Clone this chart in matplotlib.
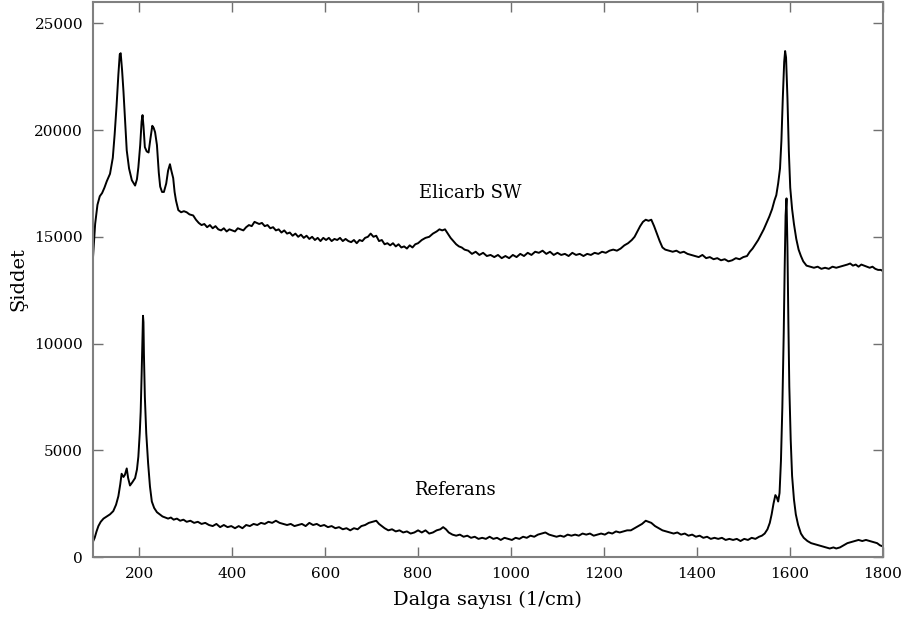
import matplotlib.pyplot as plt

# Raman spectra: Elicarb SW sample and reference
elicarb_x = [100, 105, 110, 115, 120, 125, 130, 137, 143, 147, 151, 155, 158, 160, 163, 166, 170, 173, 178, 184,
             191, 195, 198, 202, 205, 207, 209, 212, 216, 220, 224, 228, 231, 234, 238, 242, 245, 249, 253, 258,
             262, 266, 269, 273, 276, 279, 284, 290, 296, 302, 308, 316, 322, 328, 334, 340, 346, 352, 358, 364,
             370, 376, 382, 388, 394, 400, 406, 412, 418, 424, 430, 436, 442, 448, 453, 458, 464, 470, 476, 482,
             488, 494, 500, 506, 512, 518, 524, 530, 536, 542, 548, 554, 560, 566, 572, 578, 584, 590, 596, 602,
             608, 614, 620, 626, 632, 638, 644, 650, 656, 662, 668, 674, 680, 686, 692, 698, 704, 710, 716, 722,
             728, 734, 740, 746, 752, 758, 764, 770, 776, 782, 788, 794, 800, 808, 816, 824, 832, 840, 846, 852,
             858, 864, 870, 876, 882, 888, 894, 900, 908, 916, 924, 932, 940, 948, 956, 964, 972, 980, 988, 996,
             1004, 1012, 1020, 1028, 1036, 1044, 1052, 1060, 1068, 1076, 1084, 1092, 1100, 1108, 1116, 1124, 1132,
             1140, 1148, 1156, 1164, 1172, 1180, 1188, 1196, 1204, 1212, 1220, 1228, 1236, 1244, 1252, 1260, 1266,
             1272, 1278, 1284, 1290, 1296, 1302, 1308, 1314, 1320, 1326, 1332, 1340, 1348, 1356, 1364, 1372, 1380,
             1388, 1396, 1404, 1412, 1420, 1428, 1436, 1444, 1452, 1460, 1468, 1476, 1484, 1492, 1500, 1508, 1514,
             1520, 1526, 1532, 1538, 1544, 1550, 1556, 1562, 1567, 1571, 1575, 1579, 1582, 1585, 1588, 1590, 1592,
             1595, 1598, 1601, 1605, 1609, 1614, 1619, 1624, 1629, 1636, 1644, 1652, 1660, 1668, 1676, 1684, 1692,
             1700, 1708, 1716, 1724, 1730, 1736, 1742, 1748, 1754, 1760, 1766, 1772, 1778, 1784, 1790, 1796, 1800]
elicarb_y = [13900, 15600, 16500, 16900, 17050, 17300, 17600, 17950, 18700, 19800, 21100, 22600, 23550, 23600,
             22800, 21800, 20200, 19050, 18200, 17650, 17400, 17700, 18250, 19300, 20400, 20700, 20200, 19200,
             19000, 18950, 19600, 20200, 20100, 19900, 19300, 18000, 17350, 17100, 17100, 17500, 18100, 18400,
             18100, 17750, 17100, 16700, 16250, 16150, 16200, 16150, 16050, 16000, 15800, 15650, 15550, 15600,
             15450, 15550, 15400, 15500, 15350, 15300, 15400, 15250, 15350, 15300, 15250, 15400, 15350, 15300,
             15450, 15550, 15500, 15700, 15650, 15600, 15650, 15500, 15550, 15400, 15450, 15300, 15350, 15200,
             15300, 15150, 15200, 15050, 15150, 15000, 15100, 14950, 15050, 14900, 15000, 14850, 14950, 14800,
             14950, 14850, 14950, 14800, 14900, 14850, 14950, 14800, 14900, 14800, 14750, 14850, 14700, 14850,
             14800, 14950, 15000, 15150, 15000, 15050, 14800, 14850, 14650, 14700, 14600, 14700, 14550, 14650,
             14500, 14550, 14450, 14600, 14500, 14650, 14700, 14850, 14950, 15000, 15150, 15250, 15350, 15300,
             15350, 15150, 14950, 14800, 14650, 14550, 14500, 14400, 14350, 14200, 14300, 14150, 14250, 14100,
             14150, 14050, 14150, 14000, 14100, 14000, 14150, 14050, 14200, 14100, 14250, 14150, 14300, 14250,
             14350, 14200, 14300, 14150, 14250, 14150, 14200, 14100, 14250, 14150, 14200, 14100, 14200, 14150,
             14250, 14200, 14300, 14250, 14350, 14400, 14350, 14450, 14600, 14700, 14850, 15000, 15250, 15500,
             15700, 15800, 15750, 15800, 15500, 15150, 14800, 14500, 14400, 14350, 14300, 14350, 14250, 14300,
             14200, 14150, 14100, 14050, 14150, 14000, 14050, 13950, 14000, 13900, 13950, 13850, 13900, 14000,
             13950, 14050, 14100, 14300, 14450, 14650, 14850, 15100, 15350, 15650, 15950, 16300, 16700, 16950,
             17500, 18200, 19500, 21500, 23200, 23700, 23400, 21500, 19000, 17300, 16300, 15600, 14900, 14400,
             14100, 13850, 13650, 13600, 13550, 13600, 13500, 13550, 13500, 13600, 13550, 13600, 13650, 13700,
             13750, 13650, 13700, 13600, 13700, 13650, 13600, 13550, 13600, 13500, 13450, 13450, 13400]

referans_x = [100, 104, 108, 112, 117, 123, 130, 137, 144, 150, 155, 159, 162, 166, 169, 173, 176, 180, 185, 191,
              195, 198, 201, 203, 205, 207, 208, 209, 210, 212, 215, 219, 223, 227, 232, 238, 244, 250, 256, 262,
              268, 274, 281, 288, 295, 302, 310, 318, 326, 334, 342, 350, 358, 366, 374, 382, 390, 398, 406, 414,
              422, 430, 438, 446, 454, 462, 470, 478, 486, 494, 502, 510, 518, 526, 534, 542, 550, 558, 566, 574,
              582, 590, 598, 606, 614, 622, 630, 638, 646, 654, 662, 670, 678, 686, 694, 702, 710, 716, 722, 728,
              736, 744, 752, 760, 768, 776, 784, 792, 800, 808, 816, 824, 832, 840, 848, 854, 860, 866, 874, 882,
              890, 898, 906, 914, 922, 930, 938, 946, 954, 962, 970, 978, 986, 994, 1002, 1010, 1018, 1026, 1034,
              1042, 1050, 1058, 1066, 1074, 1082, 1090, 1098, 1106, 1114, 1122, 1130, 1138, 1146, 1154, 1162, 1170,
              1178, 1186, 1194, 1202, 1210, 1218, 1226, 1234, 1242, 1250, 1258, 1266, 1274, 1282, 1290, 1296, 1302,
              1310, 1318, 1326, 1334, 1342, 1350, 1358, 1366, 1374, 1382, 1390, 1398, 1406, 1414, 1422, 1430, 1438,
              1446, 1454, 1462, 1470, 1478, 1486, 1494, 1502, 1510, 1518, 1526, 1534, 1540, 1546, 1552, 1557, 1561,
              1565, 1569, 1572, 1575, 1578, 1581, 1584, 1587, 1589, 1591, 1593, 1595, 1597, 1599, 1602, 1605, 1609,
              1613, 1618, 1624, 1630, 1638, 1646, 1654, 1662, 1670, 1678, 1686, 1694, 1700, 1708, 1716, 1724, 1732,
              1740, 1748, 1756, 1764, 1772, 1780, 1788, 1794, 1800]
referans_y = [700, 900, 1200, 1450, 1650, 1800, 1900, 2000, 2150, 2450, 2850, 3400, 3900, 3750, 3850, 4150, 3700,
              3350, 3500, 3700, 4100, 4700, 5800, 6800, 8500, 10500, 11300, 11000, 9500, 7500, 5800, 4400, 3300,
              2600, 2300, 2100, 2000, 1900, 1850, 1800, 1850, 1750, 1800, 1700, 1750, 1650, 1700, 1600, 1650, 1550,
              1600, 1500, 1450, 1550, 1400, 1500, 1400, 1450, 1350, 1450, 1350, 1500, 1450, 1550, 1500, 1600, 1550,
              1650, 1600, 1700, 1600, 1550, 1500, 1550, 1450, 1500, 1550, 1450, 1600, 1500, 1550, 1450, 1500, 1400,
              1450, 1350, 1400, 1300, 1350, 1250, 1350, 1300, 1450, 1500, 1600, 1650, 1700, 1550, 1450, 1350, 1250,
              1300, 1200, 1250, 1150, 1200, 1100, 1150, 1250, 1150, 1250, 1100, 1150, 1250, 1300, 1400, 1300, 1150,
              1050, 1000, 1050, 950, 1000, 900, 950, 850, 900, 850, 950, 850, 900, 800, 900, 850, 800, 900, 850, 950,
              900, 1000, 950, 1050, 1100, 1150, 1050, 1000, 950, 1000, 950, 1050, 1000, 1050, 1000, 1100, 1050, 1100,
              1000, 1050, 1100, 1050, 1150, 1100, 1200, 1150, 1200, 1250, 1250, 1350, 1450, 1550, 1700, 1650, 1600,
              1450, 1350, 1250, 1200, 1150, 1100, 1150, 1050, 1100, 1000, 1050, 950, 1000, 900, 950, 850, 900, 850,
              900, 800, 850, 800, 850, 750, 850, 800, 900, 850, 950, 1000, 1100, 1300, 1600, 2000, 2500, 2900, 2800,
              2600, 3000, 4500, 7000, 10500, 13500, 16000, 16800, 14500, 11000, 8000, 5500, 3800, 2700, 2000, 1500,
              1100, 900, 750, 650, 600, 550, 500, 450, 400, 450, 400, 450, 550, 650, 700, 750, 800, 750, 800, 750,
              700, 650, 550, 500]

x_ticks = [200, 400, 600, 800, 1000, 1200, 1400, 1600, 1800]
y_ticks = [0, 5000, 10000, 15000, 20000, 25000]

plt.rcParams['font.family'] = ['DejaVu Serif']

fig = plt.figure(figsize=(9.02, 6.17), dpi=100)
ax = fig.add_axes([0.1029, 0.0972, 0.8757, 0.8996])

ax.plot(elicarb_x, elicarb_y, color='black', linewidth=1.4)
ax.plot(referans_x, referans_y, color='black', linewidth=1.4)

ax.text(912, 17040, 'Elicarb SW', fontsize=13, ha='center', va='center')
ax.text(880, 3140, 'Referans', fontsize=13, ha='center', va='center')

ax.set_xlim(100, 1800)
ax.set_ylim(0, 26000)
ax.set_xticks(x_ticks)
ax.set_yticks(y_ticks)
ax.tick_params(direction='in', length=7, width=1, color='#707070', labelsize=11,
               top=True, right=True, pad=7)
for spine in ax.spines.values():
    spine.set_color('#808080')
    spine.set_linewidth(1.5)

ax.set_xlabel('Dalga sayısı (1/cm)', fontsize=14, labelpad=7)
ax.set_ylabel('Şiddet', fontsize=14, labelpad=5)

fig.savefig('out.png', dpi=100)
